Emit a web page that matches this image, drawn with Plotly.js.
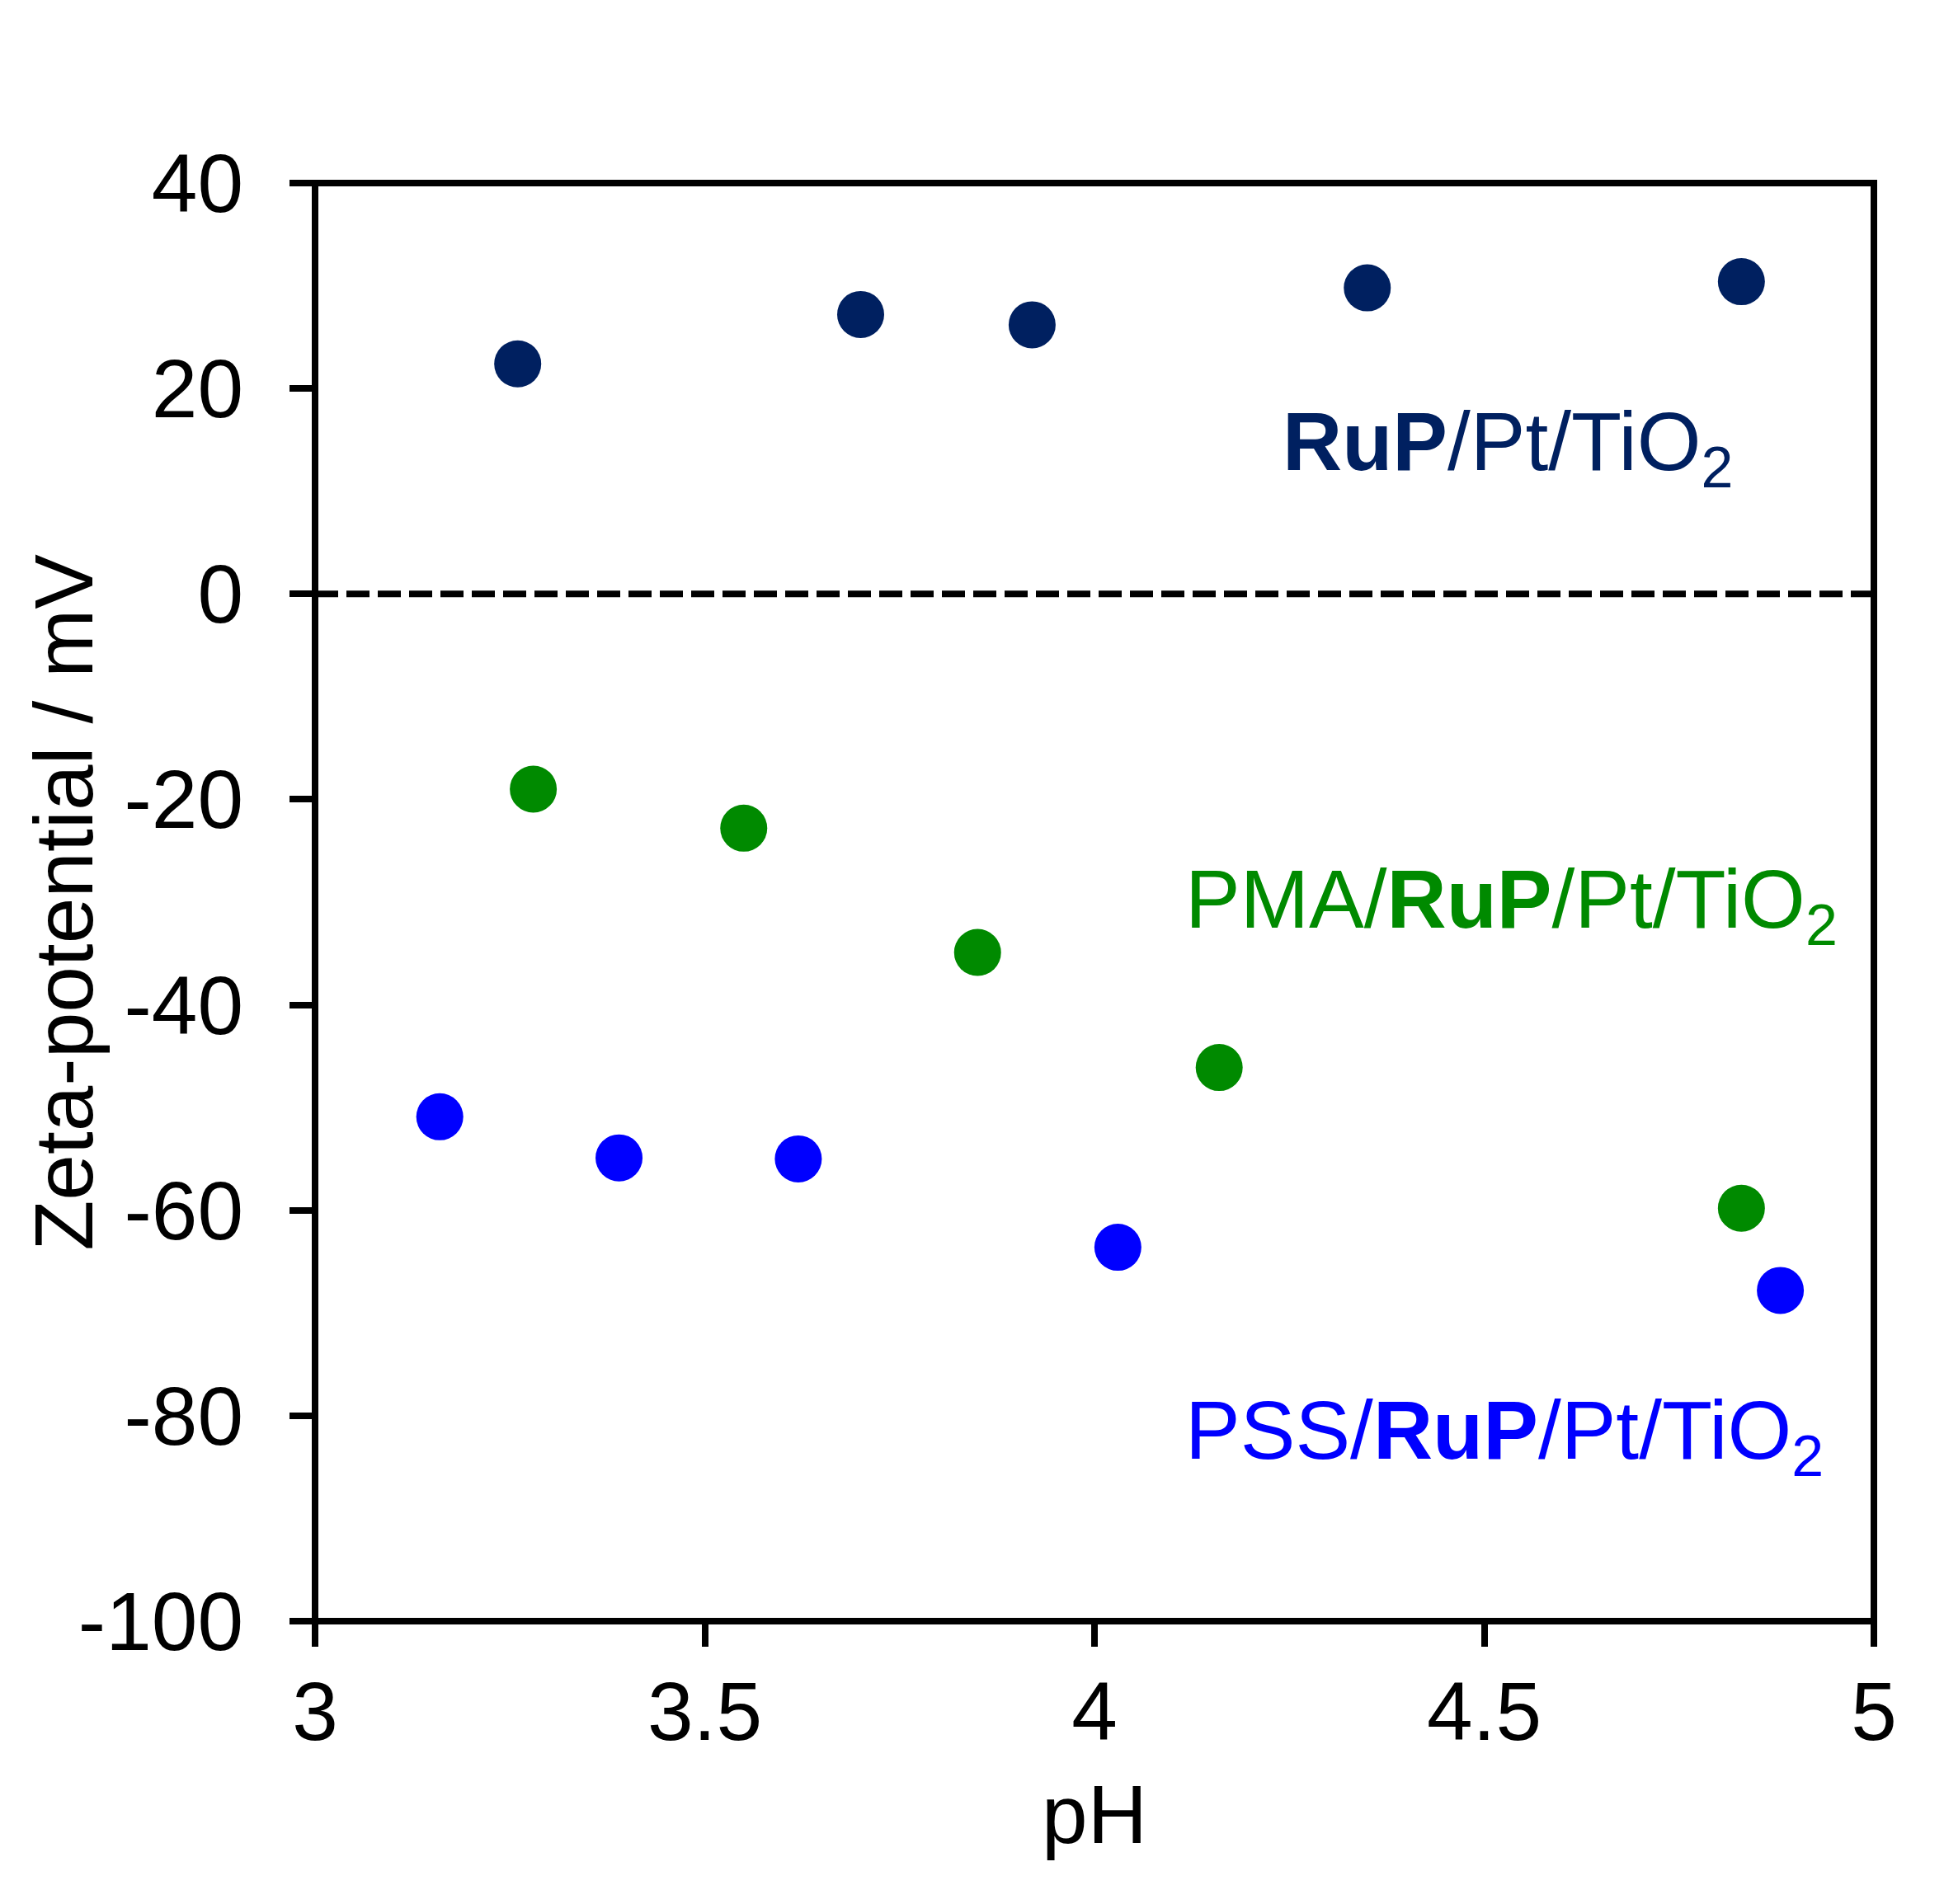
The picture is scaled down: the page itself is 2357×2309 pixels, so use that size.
<!DOCTYPE html>
<html>
<head>
<meta charset="utf-8">
<script src="https://cdn.plot.ly/plotly-3.0.1.min.js"></script>
<style>html,body{margin:0;padding:0;background:#fff;}</style>
</head>
<body>
<div id="chart" style="width:2357px;height:2309px;"></div>
<script>
// Data
const rupPH   = [3.26, 3.70, 3.92, 4.35, 4.83];
const rupZeta = [22.4, 27.2, 26.2, 29.8, 30.4];

const pmaPH   = [3.28, 3.55, 3.85, 4.16, 4.83];
const pmaZeta = [-19.0, -22.8, -34.9, -46.1, -59.8];

const pssPH   = [3.16, 3.39, 3.62, 4.03, 4.88];
const pssZeta = [-50.9, -54.9, -55.0, -63.6, -67.8];

const xTickVals = [3, 3.5, 4, 4.5, 5];
const xTickText = ["3", "3.5", "4", "4.5", "5"];
const yTickVals = [-100, -80, -60, -40, -20, 0, 20, 40];
const yTickText = ["-100", "-80", "-60", "-40", "-20", "0", "20", "40"];

const zeroLevel = 0;

const xTitle = "pH";
const yTitle = "Zeta-potential / mV";
const seriesLabels = [
  "<b>RuP</b>/Pt/TiO<sub>2</sub>",
  "PMA/<b>RuP</b>/Pt/TiO<sub>2</sub>",
  "PSS/<b>RuP</b>/Pt/TiO<sub>2</sub>"
];
const labelY = [9.0, -35.5, -87.2];

const navy = "#002060", green = "#008A00", blue = "#0000FF";
const FONT = "Liberation Sans, Arial, sans-serif";

function pts(x, y, color, name) {
  return {x: x, y: y, type: "scatter", mode: "markers", name: name,
          marker: {size: 57, color: color, line: {width: 0}}, showlegend: false,
          cliponaxis: false};
}

const data = [
  pts(rupPH, rupZeta, navy, "RuP/Pt/TiO2"),
  pts(pmaPH, pmaZeta, green, "PMA/RuP/Pt/TiO2"),
  pts(pssPH, pssZeta, blue, "PSS/RuP/Pt/TiO2")
];

const axisCommon = {
  showline: false,
  ticks: "outside", ticklen: 30, tickwidth: 8, tickcolor: "#000",
  showgrid: false, zeroline: false,
  tickfont: {family: FONT, size: 100, color: "#000"}
};

const layout = {
  width: 2357, height: 2309,
  margin: {l: 382, r: 85, t: 222, b: 343},
  paper_bgcolor: "#fff", plot_bgcolor: "#fff",
  font: {family: FONT, color: "#000"},
  xaxis: Object.assign({}, axisCommon, {
    range: [3, 5], tickmode: "array", tickvals: xTickVals, ticktext: xTickText,
    ticklabelstandoff: -7,
    title: {text: xTitle, font: {family: FONT, size: 100, color: "#000"}, standoff: 34}
  }),
  yaxis: Object.assign({}, axisCommon, {
    range: [-100, 40], tickmode: "array", tickvals: yTickVals, ticktext: yTickText,
    ticklabelstandoff: 36
  }),
  shapes: [
    {type: "line", xref: "paper", x0: 0, x1: 1, yref: "y", y0: zeroLevel, y1: zeroLevel,
     line: {color: "#000", width: 8, dash: "28px,10px"}, layer: "below"},
    {type: "rect", xref: "paper", x0: 0, x1: 1, yref: "paper", y0: 0, y1: 1,
     line: {color: "#000", width: 8}, fillcolor: "rgba(0,0,0,0)", layer: "below"}
  ],
  annotations: [
    {text: yTitle, xref: "paper", x: -0.1615, yref: "paper", y: 0.5,
     xanchor: "center", yanchor: "middle", textangle: -90, showarrow: false,
     font: {family: FONT, size: 100, color: "#000"}},
    {text: seriesLabels[0], xref: "paper", x: 0.6196, yref: "y", y: labelY[0],
     xanchor: "left", yanchor: "bottom", showarrow: false,
     font: {family: FONT, size: 100, color: navy}},
    {text: seriesLabels[1], xref: "paper", x: 0.557, yref: "y", y: labelY[1],
     xanchor: "left", yanchor: "bottom", showarrow: false,
     font: {family: FONT, size: 100, color: green}},
    {text: seriesLabels[2], xref: "paper", x: 0.557, yref: "y", y: labelY[2],
     xanchor: "left", yanchor: "bottom", showarrow: false,
     font: {family: FONT, size: 100, color: blue}}
  ],
  showlegend: false
};

Plotly.newPlot("chart", data, layout, {displayModeBar: false, staticPlot: true});
</script>
</body>
</html>
